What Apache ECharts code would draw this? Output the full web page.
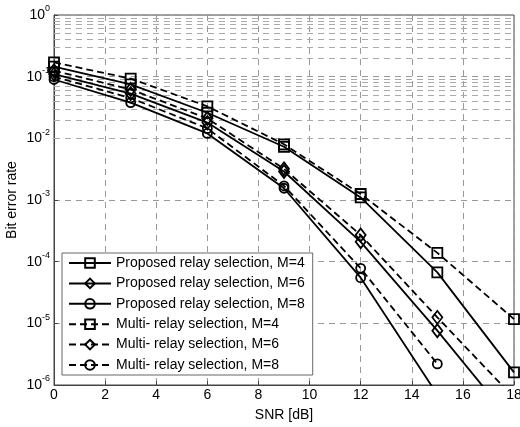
<!DOCTYPE html>
<html>
<head>
<meta charset="utf-8">
<script src="https://cdn.jsdelivr.net/npm/echarts@6/dist/echarts.min.js"></script>
<style>
html,body{margin:0;padding:0;background:#fff;}
#c{width:520px;height:427px;}
</style>
</head>
<body>
<div id="c"></div>
<script>
var snr = [0, 3, 6, 9, 12, 15, 18];
var propM4 = [0.145, 0.075, 0.026, 7.3e-3, 1.1e-3, 6.7e-5, 1.6e-6];
var propM6 = [0.11, 0.053, 0.018, 2.9e-3, 2.1e-4, 7.6e-6, 2.3e-7];
var propM8 = [0.09, 0.038, 0.012, 1.55e-3, 5.5e-5, 7e-7];
var multiM4 = [0.17, 0.093, 0.033, 8.0e-3, 1.25e-3, 1.39e-4, 1.17e-5];
var multiM6 = [0.125, 0.062, 0.021, 3.2e-3, 2.7e-4, 1.25e-5, 6.2e-7];
var multiM8 = [0.1, 0.045, 0.0145, 1.7e-3, 7.8e-5, 2.2e-6];
var seriesNames = [
  'Proposed relay selection, M=4',
  'Proposed relay selection, M=6',
  'Proposed relay selection, M=8',
  'Multi- relay selection, M=4',
  'Multi- relay selection, M=6',
  'Multi- relay selection, M=8'
];
var xTicks = [0, 2, 4, 6, 8, 10, 12, 14, 16, 18];
var yDecades = [-6, -5, -4, -3, -2, -1, 0];
var minorMultipliers = [2, 3, 4, 5, 6, 7, 8, 9];

var minorLines = [];
for (var d = 0; d < yDecades.length - 1; d++) {
  for (var m = 0; m < minorMultipliers.length; m++) {
    minorLines.push({ yAxis: minorMultipliers[m] * Math.pow(10, yDecades[d]) });
  }
}

function pairs(vals) {
  return vals.map(function (v, i) { return [snr[i], v]; });
}
var FONT = '"Liberation Sans", Arial, Helvetica, sans-serif';
function mk(name, vals, symbol, size, dashed) {
  return {
    name: name,
    type: 'line',
    data: pairs(vals),
    symbol: symbol,
    symbolSize: size,
    clip: true,
    z: 5,
    lineStyle: { color: '#000', width: 1.8, type: dashed ? [7, 4] : 'solid' },
    itemStyle: { color: 'rgba(255,255,255,0)', borderColor: '#000', borderWidth: 1.8 },
    emphasis: { disabled: true }
  };
}

var chart = echarts.init(document.getElementById('c'), null, { renderer: 'canvas' });
chart.setOption({
  animation: false,
  backgroundColor: '#fff',
  textStyle: { fontFamily: FONT },
  grid: {
    left: 54, right: 6, top: 15, bottom: 42,
    containLabel: false, outerBoundsMode: 'none',
    show: true, borderColor: '#444', borderWidth: 1, backgroundColor: 'transparent'
  },
  legend: {
    data: seriesNames,
    orient: 'vertical',
    left: 62,
    top: 253,
    itemWidth: 42,
    itemHeight: 12,
    itemGap: 6.4,
    padding: [3, 8, 3, 6],
    backgroundColor: '#fff',
    borderColor: '#666',
    borderWidth: 1,
    borderRadius: 0,
    textStyle: { fontSize: 14, color: '#000', fontFamily: FONT },
    selectedMode: false
  },
  xAxis: {
    type: 'value',
    min: 0, max: 18, interval: 2,
    name: 'SNR [dB]',
    nameLocation: 'middle',
    nameGap: 23,
    nameMoveOverlap: false,
    nameTextStyle: { fontSize: 14, color: '#000', fontFamily: FONT },
    axisLine: { show: true, lineStyle: { color: '#444', width: 1 } },
    axisTick: { show: true, inside: true, length: 4, lineStyle: { color: '#444' } },
    axisLabel: { fontSize: 14, color: '#000', margin: 3, fontFamily: FONT },
    splitLine: { show: true, lineStyle: { color: '#999', type: [6, 5], width: 1 } }
  },
  yAxis: {
    type: 'log',
    logBase: 10,
    min: 1e-6, max: 1,
    name: 'Bit error rate',
    nameLocation: 'middle',
    nameGap: 35,
    nameMoveOverlap: false,
    nameTextStyle: { fontSize: 14, color: '#000', fontFamily: FONT },
    axisLine: { show: true, lineStyle: { color: '#444', width: 1 } },
    axisTick: { show: true, inside: true, length: 4, lineStyle: { color: '#444' } },
    axisLabel: {
      margin: 4,
      color: '#000',
      formatter: function (v) {
        var e = Math.round(Math.log10(v));
        return '{b|10}{s|' + e + '}';
      },
      rich: {
        b: { fontSize: 14, color: '#000', fontFamily: FONT },
        s: { fontSize: 9, color: '#000', fontFamily: FONT, padding: [0, 0, 12, 0] }
      }
    },
    splitLine: { show: true, lineStyle: { color: '#999', type: [6, 5], width: 1 } }
  },
  series: [
    {
      name: 'minorGrid',
      type: 'line',
      data: [],
      z: 1,
      silent: true,
      markLine: {
        silent: true,
        symbol: ['none', 'none'],
        label: { show: false },
        animation: false,
        lineStyle: { color: '#aaa', type: [6, 5], width: 1 },
        emphasis: { disabled: true },
        data: minorLines
      }
    },
    mk(seriesNames[0], propM4, 'rect', 10, false),
    mk(seriesNames[1], propM6, 'diamond', [10, 13], false),
    mk(seriesNames[2], propM8, 'circle', 9, false),
    mk(seriesNames[3], multiM4, 'rect', 10, true),
    mk(seriesNames[4], multiM6, 'diamond', [10, 13], true),
    mk(seriesNames[5], multiM8, 'circle', 9, true)
  ]
});
</script>
</body>
</html>
